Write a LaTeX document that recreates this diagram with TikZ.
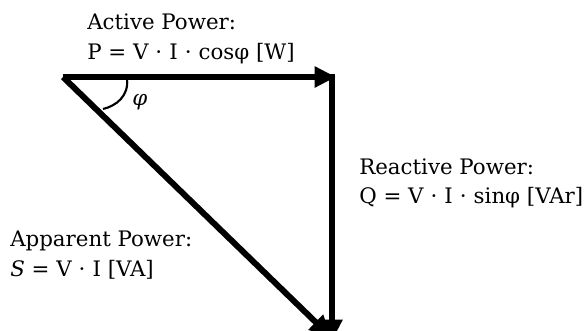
\documentclass[tikz,border=0pt]{standalone}
\usepackage{fontspec}
\setmainfont{DejaVu Serif}
\usetikzlibrary{arrows.meta}
\begin{document}
\begin{tikzpicture}[x=0.75pt,y=-0.75pt,
  vec/.style={line width=4.5pt, -{Triangle[length=16pt,width=15pt]}},
  lbl/.style={anchor=base west, inner sep=0pt, font=\fontsize{16pt}{20pt}\selectfont}]
\useasboundingbox (0,0) rectangle (587,331);
\coordinate (O) at (63,77);
\coordinate (A) at (336,77);
\coordinate (T) at (332,74);
\coordinate (B) at (332,341);
\coordinate (C) at (331,337);
\coordinate (a1) at (127,79);
\coordinate (a2) at (103,109);
\draw[vec] (O) -- (A);
\draw[vec] (T) -- (B);
\draw[vec] (O) -- (C);
\draw[line width=1.6pt] (a1) .. controls (129,96) and (116,106) .. (a2);
\node[lbl] (phi) at (132,106) {\itshape φ};
\node[lbl] (act1) at (87,30) {Active Power:};
\node[lbl] (act2) at (87,60) {P = V ⋅ I ⋅ cosφ [W]};
\node[lbl] (rea1) at (359,175) {Reactive Power:};
\node[lbl] (rea2) at (359,204) {Q = V ⋅ I ⋅ sinφ [VAr]};
\node[lbl] (app1) at (10,247) {Apparent Power:};
\node[lbl] (app2) at (10,277) {\textit{S} = V ⋅ I [VA]};
\end{tikzpicture}
\end{document}
